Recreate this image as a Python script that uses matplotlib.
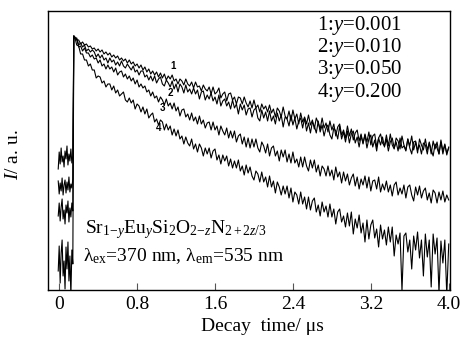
import matplotlib.pyplot as plt
import numpy as np

plt.rcParams['font.family'] = 'Liberation Serif'
plt.rcParams['mathtext.fontset'] = 'custom'
plt.rcParams['mathtext.rm'] = 'Liberation Serif'
plt.rcParams['mathtext.it'] = 'Liberation Serif:italic'

# intensity in arbitrary units (log display height)
peak = 255

# background before the excitation pulse, t = -0.01 ... 0.14 us
pre_1 = [122, 139, 127, 143, 129, 135, 124, 140, 132, 145, 126, 137, 130, 142, 128, 135]
pre_2 = [110, 97, 108, 100, 113, 96, 106, 111, 98, 109, 101, 114, 99, 107, 103, 112]
pre_3 = [75, 88, 70, 84, 92, 72, 81, 67, 86, 78, 90, 69, 83, 74, 88, 80]
pre_4 = [20, 45, 8, 38, 51, 15, 30, 2, 44, 22, 49, 10, 35, -5, 41, 27]

# decay, t = 0.16 ... 4.00 us, step 0.02 us
decay_1 = [254, 251, 251, 247, 249, 246, 247, 244, 245, 242,
           243, 240, 242, 239, 241, 237, 239, 236, 238, 234,
           236, 233, 235, 231, 233, 230, 232, 228, 231, 227,
           229, 225, 227, 223, 226, 221, 224, 219, 222, 217,
           220, 216, 219, 214, 218, 213, 217, 211, 215, 212,
           216, 210, 212, 207, 212, 210, 206, 212, 207, 205,
           209, 203, 209, 204, 205, 200, 206, 202, 200, 204,
           197, 204, 197, 199, 203, 193, 197, 199, 190, 197,
           198, 191, 194, 187, 194, 193, 187, 194, 188, 184,
           190, 183, 191, 183, 186, 179, 187, 182, 185, 179,
           186, 178, 182, 174, 183, 180, 174, 184, 175, 172,
           180, 170, 181, 172, 177, 167, 178, 169, 174, 167,
           176, 166, 171, 162, 173, 168, 162, 173, 163, 168,
           159, 170, 161, 167, 155, 164, 167, 156, 161, 153,
           165, 155, 162, 151, 158, 161, 150, 157, 147, 157,
           149, 159, 146, 155, 157, 144, 153, 157, 148, 145,
           156, 145, 157, 146, 142, 153, 150, 142, 155, 146,
           141, 152, 145, 155, 141, 149, 138, 152, 146, 141,
           152, 141, 148, 137, 150, 142, 149, 137, 151, 140,
           147, 136, 144]
decay_2 = [253, 253, 246, 248, 244, 246, 240, 242, 239, 241,
           239, 234, 237, 233, 236, 231, 233, 228, 233, 229,
           231, 226, 229, 225, 230, 225, 223, 227, 224, 221,
           225, 219, 221, 216, 220, 220, 214, 216, 211, 215,
           210, 215, 208, 212, 214, 207, 205, 211, 208, 204,
           210, 202, 207, 199, 207, 204, 198, 206, 199, 202,
           197, 203, 197, 201, 192, 199, 200, 191, 196, 192,
           198, 190, 194, 187, 196, 185, 190, 192, 185, 189,
           182, 191, 183, 187, 177, 187, 181, 186, 176, 182,
           183, 174, 181, 183, 173, 170, 181, 173, 179, 170,
           180, 170, 175, 167, 178, 170, 176, 164, 174, 172,
           165, 176, 166, 173, 162, 170, 173, 163, 173, 160,
           168, 158, 169, 165, 158, 170, 159, 166, 155, 163,
           166, 156, 152, 163, 160, 152, 165, 152, 159, 149,
           160, 148, 157, 160, 148, 154, 144, 155, 148, 156,
           143, 152, 156, 144, 151, 140, 153, 146, 154, 144,
           152, 140, 149, 153, 143, 149, 140, 153, 143, 145,
           140, 152, 143, 137, 149, 150, 141, 146, 137, 148,
           146, 137, 149, 141, 135, 147, 143, 137, 149, 137,
           146, 138, 143]
decay_3 = [253, 252, 244, 245, 240, 243, 238, 238, 234, 236,
           232, 233, 228, 231, 225, 227, 222, 226, 222, 224,
           219, 223, 216, 219, 220, 214, 217, 212, 215, 210,
           213, 207, 211, 204, 207, 203, 205, 199, 201, 195,
           199, 193, 195, 189, 194, 191, 186, 192, 185, 188,
           182, 188, 180, 184, 175, 181, 182, 174, 177, 171,
           178, 170, 174, 167, 175, 167, 171, 163, 168, 169,
           161, 169, 161, 165, 156, 165, 160, 156, 163, 153,
           160, 153, 160, 149, 155, 157, 147, 154, 144, 153,
           143, 152, 144, 152, 143, 139, 149, 145, 138, 147,
           135, 143, 145, 135, 140, 130, 141, 134, 141, 129,
           137, 128, 139, 128, 132, 124, 134, 124, 134, 125,
           120, 131, 123, 131, 119, 126, 115, 125, 122, 115,
           125, 115, 121, 111, 124, 114, 119, 108, 119, 110,
           117, 106, 113, 117, 105, 114, 102, 112, 106, 115,
           103, 114, 100, 110, 111, 102, 114, 99, 107, 101,
           110, 99, 106, 95, 106, 109, 96, 103, 97, 106,
           93, 104, 106, 96, 90, 104, 96, 105, 93, 100,
           103, 91, 98, 88, 101, 98, 88, 99, 91, 100,
           89, 96, 91]
decay_4 = [254, 246, 245, 237, 237, 231, 231, 225, 227, 221,
           221, 213, 215, 214, 208, 210, 204, 207, 207, 201,
           205, 198, 201, 195, 197, 199, 191, 189, 193, 188,
           191, 182, 187, 185, 179, 184, 177, 182, 173, 176,
           178, 169, 172, 166, 171, 169, 161, 167, 161, 165,
           156, 162, 155, 161, 152, 155, 147, 154, 148, 145,
           152, 142, 147, 139, 147, 143, 135, 143, 137, 143,
           133, 140, 142, 131, 136, 127, 136, 130, 135, 125,
           132, 123, 130, 123, 131, 120, 125, 116, 126, 118,
           124, 115, 111, 120, 117, 109, 119, 109, 114, 104,
           115, 104, 110, 98, 109, 104, 96, 105, 97, 105,
           93, 103, 89, 99, 96, 87, 99, 87, 94, 82,
           94, 81, 90, 93, 79, 86, 75, 89, 79, 85,
           74, 87, 74, 82, 67, 79, 82, 69, 75, 64,
           78, 65, 79, 57, 72, 63, 76, 58, 68, 49,
           71, 52, 66, 71, 53, 62, 44, 66, 52, 61,
           46, 64, 49, 64, 35, 56, 47, 58, 0, 55,
           58, 39, 51, 22, 55, 41, 59, 33, 51, 15,
           57, 34, 51, 4, 57, 37, 53, -2, 50, 28,
           51, -4, 47]

curve_names = ['1', '2', '3', '4']
y_values = ['0.001', '0.010', '0.050', '0.200']
# where the small curve numbers sit (t, intensity)
name_pos = [(1.17, 225), (1.14, 198), (1.06, 183), (1.02, 163)]

x_ticks = [0, 0.8, 1.6, 2.4, 3.2, 4.0]
x_ticklabels = ['0', '0.8', '1.6', '2.4', '3.2', '4.0']

fig = plt.figure(figsize=(4.63, 3.37), dpi=100)
ax = fig.add_axes([0.1026, 0.138, 0.8693, 0.8285])

curves = [(pre_1, decay_1), (pre_2, decay_2), (pre_3, decay_3), (pre_4, decay_4)]
for pre, decay in curves:
    t_pre = np.linspace(-0.01, 0.14, len(pre))
    t_dec = np.linspace(0.16, 4.0, len(decay))
    t = np.concatenate([t_pre, [0.15], t_dec])
    y = np.concatenate([pre, [peak], decay])
    ax.plot(t, y, color='black', linewidth=0.8)

for name, (tx, ty) in zip(curve_names, name_pos):
    ax.text(tx, ty, name, fontsize=7, fontweight='bold',
            family='Liberation Sans', ha='center', va='center')

# legend block: one text, one line per sample
legend_text = '\n'.join(f'{n}:$y$={v}' for n, v in zip(curve_names, y_values))
ax.text(0.670, 0.830, legend_text, fontsize=15, linespacing=0.96,
        transform=ax.transAxes, ha='left', va='center')

ax.text(0.093, 0.217,
        r'Sr$_{1\mathrm{-}y}$Eu$_y$Si$_2$O$_{2\mathrm{-}z}$N$_{2+2z/3}$',
        fontsize=14, transform=ax.transAxes, ha='left', va='center')
ax.text(0.088, 0.124,
        r'λ$_{\mathrm{ex}}$=370 nm, λ$_{\mathrm{em}}$=535 nm',
        fontsize=14, transform=ax.transAxes, ha='left', va='center')

ax.set_xlim(-0.12, 4.013)
ax.set_ylim(0.5, 279.7)
ax.set_xticks(x_ticks)
ax.set_xticklabels(x_ticklabels, fontsize=14)
ax.set_yticks([])
ax.tick_params(axis='x', direction='in', length=5, width=0.8, pad=4, color='#555555')
for s in ax.spines.values():
    s.set_linewidth(1.0)

ax.set_xlabel('Decay  time/ μs', fontsize=14)
ax.xaxis.set_label_coords(0.533, -0.098)
ax.set_ylabel('$I$/ a. u.', fontsize=14)
ax.yaxis.set_label_coords(-0.063, 0.485)

fig.savefig('out.png', dpi=100)
